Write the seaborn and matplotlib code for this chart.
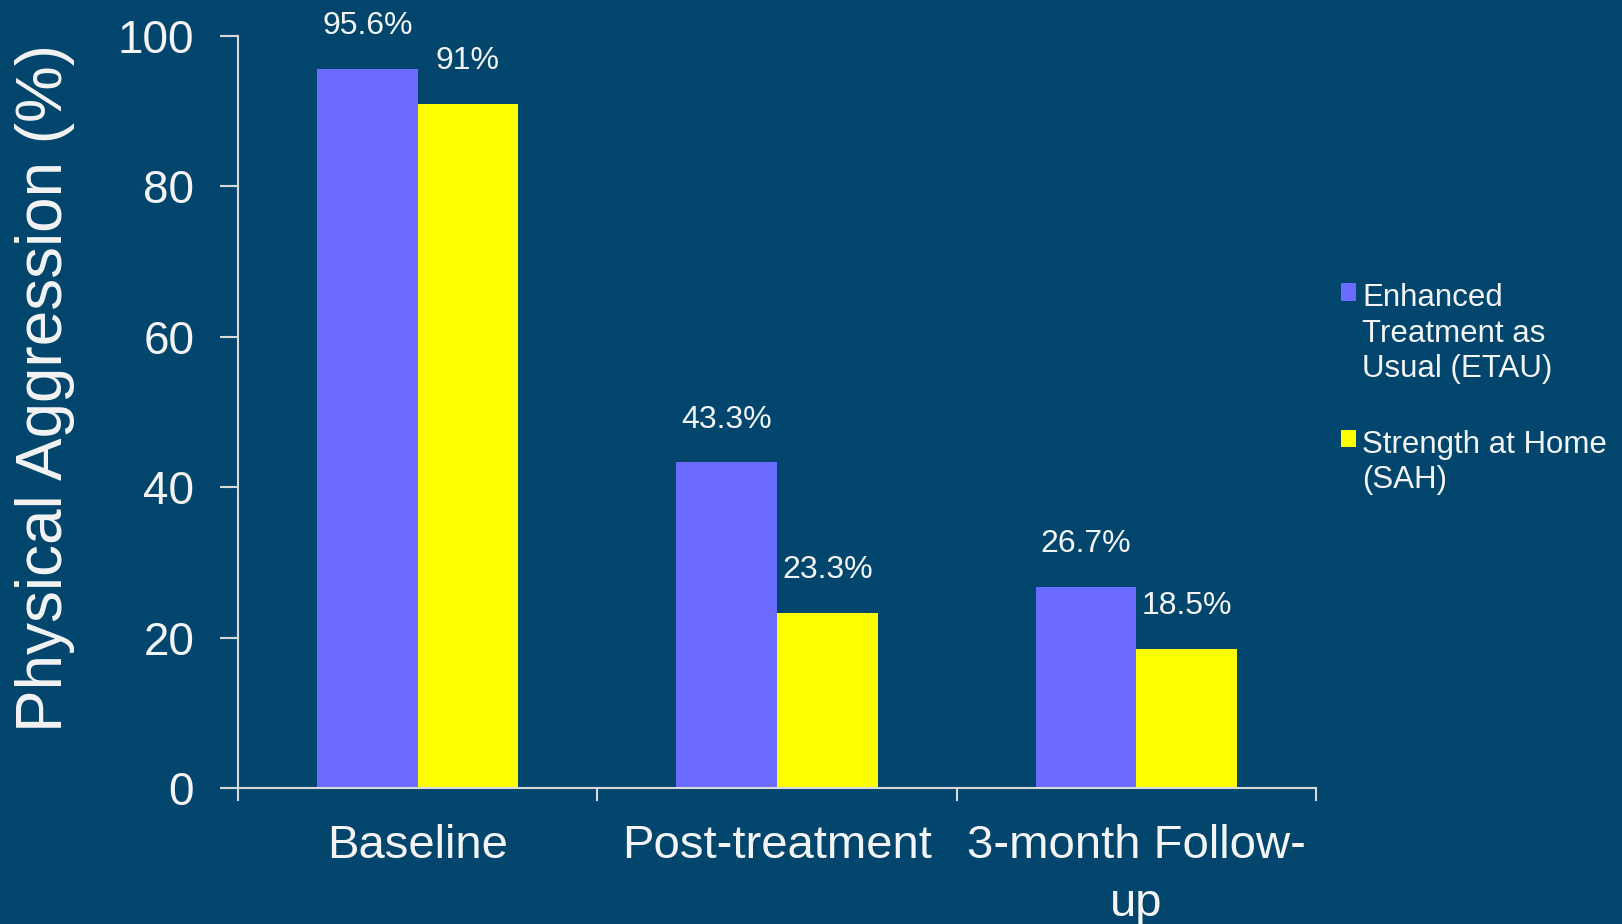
import pandas as pd
import matplotlib.pyplot as plt
import seaborn as sns

# data
categories = ['Baseline', 'Post-treatment', '3-month Follow-\nup']
series = ['Enhanced\nTreatment as\nUsual (ETAU)', 'Strength at Home\n(SAH)']
etau = [95.6, 43.3, 26.7]
sah = [91.0, 23.3, 18.5]
etau_labels = ['95.6%', '43.3%', '26.7%']
sah_labels = ['91%', '23.3%', '18.5%']
yticks = [0, 20, 40, 60, 80, 100]

bg = '#02466E'
fg = '#F4F4F4'
axis_col = '#D9D9D9'

sns.set_theme(style='white')
plt.rcParams['font.family'] = ['Liberation Sans', 'DejaVu Sans']

df = pd.DataFrame({
    'group': categories * 2,
    'series': [series[0]] * len(categories) + [series[1]] * len(categories),
    'value': etau + sah,
})

fig = plt.figure(figsize=(16.22, 9.24), dpi=100, facecolor=bg)
ax = fig.add_axes([0.1467, 0.1472, 0.6646, 0.8138])
ax.set_facecolor(bg)

sns.barplot(data=df, x='group', y='value', hue='series', hue_order=series,
            palette=['#6B6BFF', '#FFFF00'], width=0.56, gap=0, saturation=1,
            linewidth=0, ax=ax)

# value labels above bars
for cont, labs in zip(ax.containers, [etau_labels, sah_labels]):
    ax.bar_label(cont, labels=labs, padding=20, fontsize=23, color=fg)

ax.set_ylim(0, 100)
ax.set_xlim(-0.5, len(categories) - 0.5)
ax.set_yticks(yticks)
ax.set_xticks(range(len(categories)))
ax.set_xticklabels(categories)
ax.set_xticks([i - 0.5 for i in range(len(categories) + 1)], minor=True)

ax.tick_params(axis='y', direction='out', length=13, width=1.5, color=axis_col,
               labelsize=33, labelcolor=fg, pad=18.5, left=True)
ax.tick_params(axis='x', which='major', length=0, labelsize=34, labelcolor=fg, pad=26)
ax.tick_params(axis='x', which='minor', direction='out', length=9, width=1.5,
               color=axis_col, bottom=True)
for t in ax.get_xticklabels():
    t.set_linespacing(1.4)

for side in ['top', 'right']:
    ax.spines[side].set_visible(False)
for side in ['left', 'bottom']:
    ax.spines[side].set_color(axis_col)
    ax.spines[side].set_linewidth(1.5)

ax.set_xlabel('')
ax.set_ylabel('Physical Aggression (%)', fontsize=46, color=fg)
ax.yaxis.set_label_coords(-0.151, 0.532)

# legend at the right, square next to the first line of each label
handles, labels = ax.get_legend_handles_labels()
ax.get_legend().remove()
leg = fig.legend(handles, labels, loc='upper left', bbox_to_anchor=(0.8265, 0.6934),
                 frameon=False, fontsize=22.5, labelcolor=fg, handlelength=0.5,
                 handleheight=0.5, handletextpad=0.2, labelspacing=1.45,
                 borderaxespad=0, borderpad=0)
for t in leg.get_texts():
    t.set_linespacing(1.24)
for col in leg._legend_handle_box.get_children():
    for item in col.get_children():
        item.align = 'top'

fig.savefig('out.png', dpi=100, facecolor=bg)
